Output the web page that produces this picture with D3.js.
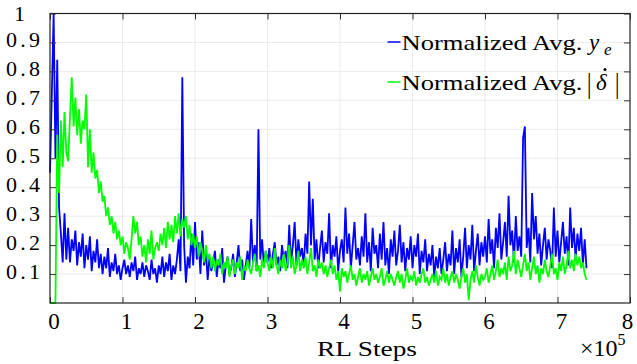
<!DOCTYPE html>
<html>
<head>
<meta charset="utf-8">
<script src="https://cdn.jsdelivr.net/npm/d3@7"></script>
<style>
  html, body { margin: 0; padding: 0; background: #fff; }
  svg { display: block; }
  text { font-family: "Liberation Serif", "Times New Roman", Times, serif; fill: #000; }
</style>
</head>
<body>
<svg id="chart" width="637" height="364"></svg>
<script>
// ---------------- DATA ----------------
const stepInterval = 2500; // RL steps between logged samples

const blueYe = [
  0.45, 0.72, 1.0, 0.5, 0.84, 0.33, 0.24, 0.14, 0.31, 0.15,
  0.26, 0.14, 0.22, 0.18, 0.25, 0.13, 0.21, 0.16, 0.24, 0.12,
  0.2, 0.15, 0.23, 0.11, 0.18, 0.14, 0.22, 0.12, 0.17, 0.1,
  0.16, 0.12, 0.19, 0.09, 0.14, 0.11, 0.17, 0.1, 0.13, 0.08,
  0.12, 0.15, 0.1, 0.13, 0.09, 0.14, 0.11, 0.16, 0.08, 0.12,
  0.1, 0.14, 0.09, 0.13, 0.11, 0.08, 0.15, 0.1, 0.12, 0.07,
  0.13, 0.1, 0.16, 0.09, 0.14, 0.11, 0.17, 0.08, 0.13, 0.1,
  0.15, 0.22, 0.11, 0.78, 0.2, 0.07, 0.16, 0.12, 0.24, 0.13,
  0.28, 0.15, 0.21, 0.1, 0.25, 0.13, 0.18, 0.08, 0.16, 0.11,
  0.14, 0.18, 0.09, 0.15, 0.12, 0.19, 0.07, 0.13, 0.16, 0.1,
  0.12, 0.17, 0.09, 0.14, 0.2, 0.11, 0.15, 0.08, 0.13, 0.18,
  0.12, 0.29, 0.14, 0.2, 0.11, 0.6, 0.15, 0.22, 0.13, 0.18,
  0.14, 0.19, 0.12, 0.17, 0.21, 0.13, 0.16, 0.11, 0.2, 0.15,
  0.18, 0.12, 0.27, 0.14, 0.2, 0.28, 0.13, 0.22, 0.16, 0.19,
  0.13, 0.24, 0.17, 0.42, 0.2, 0.36, 0.15, 0.22, 0.12, 0.19,
  0.25, 0.14, 0.21, 0.17, 0.31, 0.12, 0.2, 0.16, 0.23, 0.11,
  0.18, 0.22, 0.14, 0.33, 0.17, 0.24, 0.12, 0.2, 0.28, 0.15,
  0.19, 0.13, 0.23, 0.16, 0.31, 0.14, 0.21, 0.11, 0.26, 0.17,
  0.2, 0.12, 0.24, 0.15, 0.28, 0.13, 0.19, 0.1, 0.22, 0.16,
  0.25, 0.13, 0.18, 0.27, 0.14, 0.21, 0.11, 0.19, 0.15, 0.23,
  0.12, 0.2, 0.16, 0.24, 0.1, 0.18, 0.14, 0.22, 0.11, 0.17,
  0.13, 0.2, 0.09, 0.16, 0.12, 0.19, 0.1, 0.15, 0.21, 0.11,
  0.17, 0.13, 0.25, 0.1, 0.19, 0.14, 0.22, 0.09, 0.16, 0.26,
  0.12, 0.2, 0.15, 0.27, 0.11, 0.18, 0.24, 0.13, 0.21, 0.16,
  0.23, 0.14, 0.29, 0.17, 0.22, 0.12, 0.26, 0.19, 0.31, 0.15,
  0.21, 0.28, 0.16, 0.37, 0.2, 0.25, 0.14, 0.3, 0.18, 0.23,
  0.16, 0.57, 0.61, 0.19, 0.26, 0.14, 0.38, 0.22, 0.3, 0.17,
  0.24, 0.13, 0.2, 0.26, 0.15, 0.22, 0.18, 0.12, 0.33, 0.16,
  0.25, 0.14, 0.21, 0.28, 0.17, 0.23, 0.13, 0.33, 0.19, 0.26,
  0.15, 0.24, 0.18, 0.26, 0.13, 0.22, 0.12
];

const greenDelta = [
  0, 0, 0, 0, 0.58, 0.38, 0.63, 0.47, 0.66, 0.52,
  0.49, 0.64, 0.78, 0.61, 0.71, 0.58, 0.67, 0.55, 0.63, 0.6,
  0.72, 0.47, 0.6, 0.45, 0.52, 0.43, 0.46, 0.38, 0.42, 0.35,
  0.37, 0.3, 0.33, 0.27, 0.3, 0.24, 0.28, 0.22, 0.25, 0.2,
  0.23, 0.17, 0.21, 0.19, 0.15, 0.22, 0.3, 0.24, 0.28, 0.2,
  0.23, 0.16, 0.2, 0.14, 0.22, 0.17, 0.25, 0.15, 0.19, 0.21,
  0.18, 0.24, 0.2, 0.26, 0.19, 0.28, 0.22, 0.27, 0.21, 0.3,
  0.24, 0.31, 0.23, 0.29, 0.26, 0.3, 0.22, 0.27, 0.2, 0.24,
  0.19, 0.23, 0.16, 0.21, 0.18, 0.14, 0.2, 0.15, 0.17, 0.12,
  0.16, 0.11, 0.15, 0.13, 0.17, 0.1, 0.14, 0.12, 0.16, 0.09,
  0.13, 0.15, 0.1, 0.14, 0.12, 0.16, 0.08, 0.13, 0.11, 0.15,
  0.12, 0.1, 0.14, 0.17, 0.11, 0.13, 0.09, 0.15, 0.12, 0.18,
  0.14, 0.11, 0.16, 0.12, 0.19, 0.13, 0.1, 0.15, 0.12, 0.17,
  0.11, 0.14, 0.2, 0.12, 0.16, 0.1, 0.13, 0.18, 0.11, 0.15,
  0.12, 0.16, 0.1, 0.14, 0.19, 0.11, 0.13, 0.09, 0.15, 0.12,
  0.14, 0.1, 0.13, 0.09, 0.12, 0.15, 0.1, 0.13, 0.08, 0.11,
  0.04, 0.12, 0.09, 0.11, 0.07, 0.1, 0.13, 0.08, 0.1, 0.06,
  0.09, 0.12, 0.07, 0.1, 0.08, 0.11, 0.06, 0.09, 0.12, 0.08,
  0.1, 0.07, 0.09, 0.12, 0.06, 0.08, 0.11, 0.07, 0.1, 0.08,
  0.06, 0.09, 0.11, 0.07, 0.1, 0.05, 0.08, 0.12, 0.07, 0.09,
  0.08, 0.11, 0.06, 0.09, 0.07, 0.1, 0.12, 0.07, 0.09, 0.06,
  0.08, 0.1, 0.07, 0.11, 0.06, 0.09, 0.08, 0.12, 0.07, 0.1,
  0.06, 0.09, 0.11, 0.07, 0.1, 0.08, 0.05, 0.09, 0.12, 0.07,
  0.1, 0.01, 0.08, 0.11, 0.07, 0.13, 0.09, 0.06, 0.1, 0.08,
  0.09, 0.12, 0.07, 0.1, 0.13, 0.08, 0.11, 0.15, 0.09, 0.12,
  0.1, 0.14, 0.08, 0.16, 0.11, 0.13, 0.18, 0.1, 0.15, 0.12,
  0.09, 0.13, 0.17, 0.11, 0.14, 0.08, 0.12, 0.16, 0.1, 0.13,
  0.07, 0.12, 0.1, 0.15, 0.11, 0.09, 0.13, 0.17, 0.1, 0.12,
  0.08, 0.14, 0.11, 0.16, 0.1, 0.13, 0.18, 0.12, 0.15, 0.11,
  0.17, 0.13, 0.16, 0.12, 0.14, 0.1, 0.08
];

const rlSteps = blueYe.map((_, i) => i * stepInterval);

const xTickValues = [0, 100000, 200000, 300000, 400000, 500000, 600000, 700000, 800000];
const xTickLabels = ["0", "1", "2", "3", "4", "5", "6", "7", "8"];
const yTickValues = [0.1, 0.2, 0.3, 0.4, 0.5, 0.6, 0.7, 0.8, 0.9, 1];
const yTickLabels = ["0.1", "0.2", "0.3", "0.4", "0.5", "0.6", "0.7", "0.8", "0.9", "1"];
const legendLabels = ["Normalized Avg.", "Normalized Avg."];
const seriesColors = ["#0000ff", "#00ff00"];

// ---------------- LAYOUT ----------------
const svg = d3.select("#chart");
const L = 50, R = 630, T = 13.5, B = 303;

const x = d3.scaleLinear().domain([0, 800000]).range([L, R]);
const y = d3.scaleLinear().domain([0, 1]).range([B, T]);

// grid
const grid = svg.append("g");
grid.selectAll(".gx").data(xTickValues.slice(1, -1)).join("line")
  .attr("x1", d => x(d)).attr("x2", d => x(d)).attr("y1", T).attr("y2", B)
  .attr("stroke", "#ebebeb").attr("stroke-width", 1);
grid.selectAll(".gy").data(yTickValues.slice(0, -1)).join("line")
  .attr("x1", L).attr("x2", R).attr("y1", d => y(d)).attr("y2", d => y(d))
  .attr("stroke", "#ebebeb").attr("stroke-width", 1);

// series
const line = d3.line().x(d => x(d[0])).y(d => y(d[1]));
const series = [blueYe, greenDelta];
series.forEach((vals, k) => {
  svg.append("path")
    .datum(vals.map((v, i) => [rlSteps[i], v]))
    .attr("d", line)
    .attr("fill", "none")
    .attr("stroke", seriesColors[k])
    .attr("stroke-width", 1.8)
    .attr("stroke-linejoin", "miter")
    .attr("stroke-miterlimit", 3);
});

// axes ticks (inward) on all four sides
const tickLen = 6;
function styleAxis(g) {
  g.select(".domain").remove();
  g.selectAll(".tick line").attr("stroke", "#333").attr("stroke-width", 1);
  g.selectAll(".tick text").remove();
}
svg.append("g").attr("transform", `translate(0,${B})`)
  .call(d3.axisBottom(x).tickValues(xTickValues).tickSize(-tickLen).tickFormat(""))
  .call(styleAxis);
svg.append("g").attr("transform", `translate(0,${T})`)
  .call(d3.axisTop(x).tickValues(xTickValues).tickSize(-tickLen).tickFormat(""))
  .call(styleAxis);
svg.append("g").attr("transform", `translate(${L},0)`)
  .call(d3.axisLeft(y).tickValues(yTickValues).tickSize(-tickLen).tickFormat(""))
  .call(styleAxis);
svg.append("g").attr("transform", `translate(${R},0)`)
  .call(d3.axisRight(y).tickValues(yTickValues).tickSize(-tickLen).tickFormat(""))
  .call(styleAxis);

// frame
svg.append("rect").attr("x", L).attr("y", T).attr("width", R - L).attr("height", B - T)
  .attr("fill", "none").attr("stroke", "#222").attr("stroke-width", 1.2);

// x tick labels
svg.selectAll(".xl").data(xTickValues).join("text")
  .attr("x", (d, i) => i === xTickValues.length - 1 ? x(d) - 2.5 : x(d) + 4)
  .attr("y", 329)
  .attr("text-anchor", "middle")
  .attr("font-size", 23)
  .text((d, i) => xTickLabels[i]);

// y tick labels
svg.selectAll(".yl").data(yTickValues).join("text")
  .each(function (d, i) {
    const t = d3.select(this);
    const lab = yTickLabels[i];
    t.attr("font-size", 22).text(lab);
    if (lab.length > 1) {
      t.attr("x", 6).attr("y", y(d) + 5)
        .attr("textLength", 34).attr("lengthAdjust", "spacing");
    } else {
      t.attr("x", 14).attr("y", y(d) + 7.5);
    }
  });

// x axis title
svg.append("text").attr("x", 317).attr("y", 356)
  .attr("font-size", 22).attr("textLength", 100).attr("lengthAdjust", "spacingAndGlyphs")
  .text("RL Steps");

// x10^5 multiplier
const mult = svg.append("text").attr("x", 580).attr("y", 356).attr("font-size", 24);
mult.append("tspan").text("×10");
mult.append("tspan").attr("font-size", 16).attr("dy", -11).text("5");

// legend
const legendRows = [42, 82];
legendRows.forEach((ly, k) => {
  svg.append("line").attr("x1", 387.5).attr("x2", 400.5).attr("y1", ly).attr("y2", ly)
    .attr("stroke", seriesColors[k]).attr("stroke-width", 1.5);
  svg.append("text").attr("x", 401.5).attr("y", ly + 7.5)
    .attr("font-size", 22).attr("textLength", 181).attr("lengthAdjust", "spacingAndGlyphs")
    .text(legendLabels[k]);
});
// y_e
svg.append("text").attr("x", 589).attr("y", 49.5).attr("font-size", 23)
  .attr("font-style", "italic").text("y");
svg.append("text").attr("x", 604).attr("y", 55).attr("font-size", 17)
  .attr("font-style", "italic").text("e");
// |δ̇|
svg.append("text").attr("transform", "translate(587,93) scale(1,1.35)")
  .attr("font-size", 22).text("|");
svg.append("text").attr("x", 596).attr("y", 90).attr("font-size", 23)
  .attr("font-style", "italic").text("δ");
svg.append("circle").attr("cx", 605).attr("cy", 69.5).attr("r", 1.5).attr("fill", "#000");
svg.append("text").attr("transform", "translate(615,93) scale(1,1.35)")
  .attr("font-size", 22).text("|");
</script>
</body>
</html>
